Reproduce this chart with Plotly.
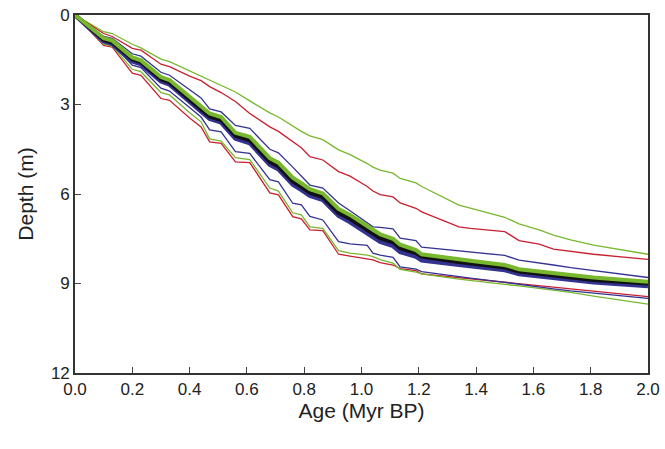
import plotly.graph_objects as go

ages = [0.00, 0.10, 0.13, 0.20, 0.23, 0.30, 0.33, 0.40, 0.44, 0.47, 0.51, 0.56, 0.61,
        0.68, 0.71, 0.76, 0.79, 0.82, 0.865, 0.92, 0.96, 1.02, 1.04, 1.065, 1.11, 1.135,
        1.19, 1.21, 1.34, 1.38, 1.50, 1.55, 1.62, 1.67, 1.73, 1.81, 2.00]

green_upper = [0, 0.56, 0.62, 0.98, 1.10, 1.48, 1.56, 1.87, 2.03, 2.17, 2.35, 2.58, 2.88,
               3.28, 3.42, 3.72, 3.90, 4.05, 4.18, 4.52, 4.68, 4.98, 5.10, 5.20, 5.30, 5.48,
               5.63, 5.75, 6.37, 6.47, 6.78, 7.00, 7.20, 7.38, 7.54, 7.71, 8.02]
red_upper = [0, 0.62, 0.72, 1.12, 1.18, 1.65, 1.73, 2.05, 2.20, 2.40, 2.60, 2.90, 3.30,
             3.75, 3.90, 4.25, 4.45, 4.75, 4.86, 5.25, 5.40, 5.75, 5.90, 6.02, 6.10, 6.30,
             6.48, 6.60, 7.10, 7.15, 7.26, 7.56, 7.68, 7.85, 7.92, 8.02, 8.19]
blue_upper = [0, 0.72, 0.78, 1.30, 1.38, 1.92, 2.02, 2.52, 2.78, 3.15, 3.25, 3.70, 3.80,
              4.50, 4.62, 5.10, 5.40, 5.70, 5.80, 6.30, 6.56, 6.95, 7.10, 7.12, 7.17, 7.48,
              7.56, 7.78, 7.90, 7.93, 8.06, 8.22, 8.30, 8.38, 8.47, 8.57, 8.80]
green_mid = [0, 0.78, 0.86, 1.42, 1.52, 2.08, 2.18, 2.75, 3.05, 3.30, 3.42, 3.95, 4.08,
             4.80, 4.95, 5.45, 5.64, 5.84, 5.98, 6.50, 6.70, 7.10, 7.20, 7.35, 7.50, 7.70,
             7.88, 8.02, 8.20, 8.24, 8.38, 8.52, 8.60, 8.66, 8.73, 8.80, 8.94]
black_mid = [0, 0.83, 0.92, 1.48, 1.58, 2.15, 2.26, 2.85, 3.15, 3.40, 3.52, 4.05, 4.20,
             4.92, 5.07, 5.58, 5.76, 5.96, 6.10, 6.63, 6.83, 7.22, 7.32, 7.48, 7.62, 7.82,
             7.98, 8.10, 8.28, 8.32, 8.46, 8.60, 8.68, 8.74, 8.81, 8.88, 9.00]
blue_mid = [0, 0.88, 0.97, 1.55, 1.65, 2.22, 2.33, 2.93, 3.23, 3.48, 3.60, 4.14, 4.29,
            5.02, 5.17, 5.68, 5.86, 6.06, 6.20, 6.73, 6.94, 7.33, 7.43, 7.60, 7.74, 7.94,
            8.10, 8.22, 8.37, 8.41, 8.55, 8.68, 8.76, 8.82, 8.89, 8.96, 9.08]
blue_lower = [0, 0.92, 0.98, 1.68, 1.76, 2.45, 2.55, 3.10, 3.42, 3.85, 3.92, 4.58, 4.64,
              5.52, 5.59, 6.31, 6.36, 6.75, 6.87, 7.60, 7.67, 7.72, 7.98, 8.05, 8.12, 8.44,
              8.52, 8.60, 8.78, 8.82, 8.96, 9.03, 9.12, 9.18, 9.25, 9.33, 9.50]
green_lower = [0, 0.98, 1.04, 1.82, 1.90, 2.60, 2.68, 3.28, 3.58, 4.15, 4.23, 4.78, 4.85,
               5.80, 5.90, 6.63, 6.70, 7.10, 7.15, 7.90, 7.98, 8.05, 8.10, 8.20, 8.32, 8.53,
               8.62, 8.68, 8.85, 8.90, 9.03, 9.08, 9.16, 9.22, 9.30, 9.42, 9.69]
red_lower = [0, 1.02, 1.08, 1.95, 2.02, 2.80, 2.86, 3.45, 3.75, 4.25, 4.30, 4.92, 4.95,
             5.96, 6.03, 6.76, 6.83, 7.20, 7.23, 8.02, 8.08, 8.16, 8.21, 8.30, 8.38, 8.50,
             8.57, 8.68, 8.80, 8.83, 8.95, 9.00, 9.07, 9.12, 9.18, 9.26, 9.44]

x_ticks = [0.0, 0.2, 0.4, 0.6, 0.8, 1.0, 1.2, 1.4, 1.6, 1.8, 2.0]
x_ticklabels = ["0.0", "0.2", "0.4", "0.6", "0.8", "1.0", "1.2", "1.4", "1.6", "1.8", "2.0"]
y_ticks = [0, 3, 6, 9, 12]
y_ticklabels = ["0", "3", "6", "9", "12"]

GREEN = "#77b82f"
RED = "#c8202f"
BLUE = "#343391"
BLACK = "#111111"

series = [
    (green_upper, GREEN, 1.3),
    (red_upper, RED, 1.3),
    (blue_upper, BLUE, 1.3),
    (red_lower, RED, 1.3),
    (green_lower, GREEN, 1.3),
    (blue_lower, BLUE, 1.3),
    (blue_mid, BLUE, 4.5),
    (black_mid, BLACK, 4.0),
    (green_mid, GREEN, 4.0),
]

fig = go.Figure()
for depths, color, width in series:
    fig.add_trace(go.Scatter(x=ages, y=depths, mode="lines",
                             line=dict(color=color, width=width),
                             showlegend=False, hoverinfo="skip"))

fig.update_layout(
    width=665, height=449,
    autosize=False,
    margin=dict(l=75, r=17, t=15, b=76, autoexpand=False),
    paper_bgcolor="white", plot_bgcolor="white",
    font=dict(family="Liberation Sans, Arial, sans-serif", color="#222222", size=17),
    xaxis=dict(range=[0, 2.0], tickvals=x_ticks, ticktext=x_ticklabels,
               ticks="inside", ticklen=6, tickwidth=1.2, tickcolor="#444444",
               showline=True, linecolor="#333333", linewidth=1.6, mirror=True,
               showgrid=False, zeroline=False, automargin=False,
               ticklabeloverflow="allow",
               title=dict(text="Age (Myr BP)", font=dict(size=21), standoff=3)),
    yaxis=dict(range=[12, 0], tickvals=y_ticks, ticktext=y_ticklabels,
               ticks="inside", ticklen=6, tickwidth=1.2, tickcolor="#444444",
               showline=True, linecolor="#333333", linewidth=1.6, mirror=True,
               showgrid=False, zeroline=False, automargin=False,
               ticklabeloverflow="allow",
               title=dict(text="Depth (m)", font=dict(size=21), standoff=12)),
)

fig.write_html("out.html", config={"responsive": False, "displayModeBar": False},
               post_script="document.body.style.margin='0';document.body.style.overflow='hidden';")
